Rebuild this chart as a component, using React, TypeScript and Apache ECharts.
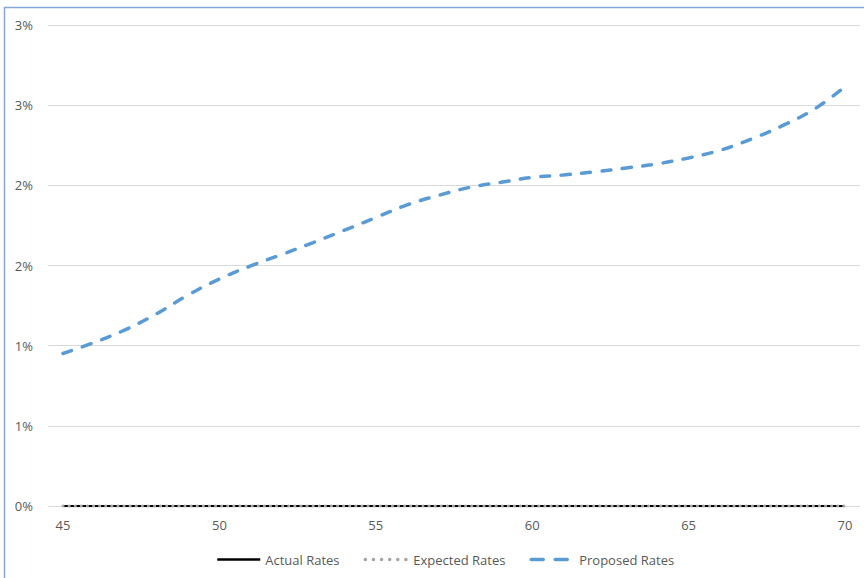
import React, { useEffect, useRef } from "react";
import * as echarts from "echarts";

const ages = [45, 46, 47, 48, 49, 50, 51, 52, 53, 54, 55, 56, 57, 58, 59, 60, 61, 62, 63, 64, 65, 66, 67, 68, 69, 70];
const actualRates = [0, 0, 0, 0, 0, 0, 0, 0, 0, 0, 0, 0, 0, 0, 0, 0, 0, 0, 0, 0, 0, 0, 0, 0, 0, 0];
const expectedRates = [0, 0, 0, 0, 0, 0, 0, 0, 0, 0, 0, 0, 0, 0, 0, 0, 0, 0, 0, 0, 0, 0, 0, 0, 0, 0];
const proposedRates = [0.951, 1.02, 1.1, 1.2, 1.316, 1.416, 1.497, 1.569, 1.643, 1.72, 1.799, 1.878, 1.937, 1.987, 2.019, 2.049, 2.065, 2.084, 2.108, 2.134, 2.171, 2.218, 2.288, 2.372, 2.473, 2.615];
const seriesNames = ["Actual Rates", "Expected Rates", "Proposed Rates"];

const pairs = (vals: number[]) => ages.map((a, i) => [a, vals[i]]);

export default function App() {
  const ref = useRef<HTMLDivElement>(null);
  useEffect(() => {
    if (!ref.current) return;
    const chart = echarts.init(ref.current, null, { renderer: "svg" });
    const font = "'Open Sans', 'Noto Sans', sans-serif";
    const hidden = { opacity: 0, borderWidth: 0 };
    chart.setOption({
      animation: false,
      backgroundColor: "#ffffff",
      textStyle: { fontFamily: font },
      graphic: [
        {
          type: "rect",
          shape: { x: 4.5, y: 7.5, width: 900, height: 600 },
          style: { fill: "none", stroke: "#86a6df", lineWidth: 1.5 },
          silent: true,
        },
      ],
      grid: [
        { left: 48, right: 4, top: 25, bottom: 72, containLabel: false },
        { left: 63, right: 19, top: 25, bottom: 72, containLabel: false },
      ],
      legend: {
        top: 548,
        left: 211,
        itemWidth: 43,
        itemHeight: 12,
        itemGap: 24,
        textStyle: { color: "#595959", fontSize: 13, fontFamily: font },
        itemStyle: hidden,
        data: [
          {
            name: seriesNames[0],
            itemStyle: hidden,
            lineStyle: { color: "#000000", width: 2.5, type: "solid" },
          },
          {
            name: seriesNames[1],
            itemStyle: hidden,
            lineStyle: { color: "#a5a5a5", width: 3.5, type: [0.1, 8], cap: "round" },
          },
          {
            name: seriesNames[2],
            itemStyle: hidden,
            lineStyle: { color: "#5b9bd5", width: 3.5, type: [12, 12], cap: "round" },
          },
        ],
      },
      xAxis: [
        {
          gridIndex: 0,
          type: "value",
          min: 0,
          max: 1,
          show: false,
        },
        {
          gridIndex: 1,
          type: "value",
          min: 45,
          max: 70,
          interval: 5,
          axisLine: { show: false },
          axisTick: { show: false },
          splitLine: { show: false },
          axisLabel: { color: "#595959", fontSize: 13, margin: 12, fontFamily: font },
        },
      ],
      yAxis: [
        {
          gridIndex: 0,
          type: "value",
          min: 0,
          max: 3,
          interval: 0.5,
          axisLine: { show: false },
          axisTick: { show: false },
          splitLine: { show: true, lineStyle: { color: "#d9d9d9", width: 1 } },
          axisLabel: {
            color: "#595959",
            fontSize: 13,
            margin: 15,
            fontFamily: font,
            formatter: (v: number) => Math.round(v) + "%",
          },
        },
        {
          gridIndex: 1,
          type: "value",
          min: 0,
          max: 3,
          interval: 0.5,
          show: false,
          splitLine: { show: false },
        },
      ],
      series: [
        {
          name: seriesNames[0],
          type: "line",
          xAxisIndex: 1,
          yAxisIndex: 1,
          data: pairs(actualRates),
          showSymbol: false,
          symbol: "none",
          lineStyle: { color: "#000000", width: 2.25 },
          itemStyle: { color: "#000000" },
        },
        {
          name: seriesNames[1],
          type: "line",
          xAxisIndex: 1,
          yAxisIndex: 1,
          data: pairs(expectedRates),
          showSymbol: false,
          symbol: "none",
          lineStyle: { color: "#a5a5a5", width: 3, type: [0.1, 6], cap: "round" },
          itemStyle: { color: "#a5a5a5" },
        },
        {
          name: seriesNames[2],
          type: "line",
          xAxisIndex: 1,
          yAxisIndex: 1,
          data: pairs(proposedRates),
          smooth: 0.4,
          showSymbol: false,
          symbol: "none",
          lineStyle: { color: "#5b9bd5", width: 3.5, type: [9, 11.5], cap: "round" },
          itemStyle: { color: "#5b9bd5" },
        },
      ],
    });
    return () => chart.dispose();
  }, []);
  return (
    <div
      ref={ref}
      style={{ position: "fixed", left: 0, top: 0, width: 864, height: 578 }}
    />
  );
}
